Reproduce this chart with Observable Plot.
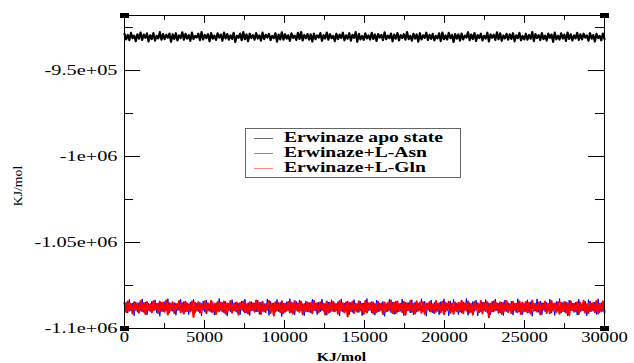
<!DOCTYPE html>
<html><head><meta charset="utf-8">
<script src="https://cdn.jsdelivr.net/npm/d3@7"></script>
<script src="https://cdn.jsdelivr.net/npm/@observablehq/plot@0.6"></script>
<style>
html,body{margin:0;padding:0;background:#fff;}
#wrap{position:relative;width:634px;height:363px;font-family:"Liberation Serif","DejaVu Serif",serif;}
#wrap svg, #wrap svg text{font-family:"Liberation Serif","DejaVu Serif",serif !important;}
#legend{position:absolute;left:245px;top:128px;width:216px;height:50px;border:1px solid #666;background:#fff;box-sizing:border-box;}
.row{position:absolute;left:0;width:100%;height:16px;}
.swatch{position:absolute;left:8px;top:8px;width:19px;height:1px;}
.lab{position:absolute;left:38px;top:0;font-size:14px;line-height:16px;font-weight:bold;white-space:nowrap;transform:scaleX(1.4);transform-origin:left center;color:#000;font-family:"Liberation Serif","DejaVu Serif",serif;}
</style></head>
<body>
<div id="wrap"></div>
<script>
// ---------- data (energies in thousands of kJ/mol) ----------
const xMax = 30000;
const seriesNames = ["Erwinaze apo state", "Erwinaze+L-Asn", "Erwinaze+L-Gln"];
const seriesColors = ["#000000", "#0000ff", "#ff0000"];
const legendSwatchColors = ["#666666", "#7777ff", "#ff8888"];

const apoK = [
-928.6,-931.9,-929.3,-932.4,-928.1,-931.2,-929.7,-932.9,-928.9,-931.5,
-927.9,-932.2,-929.1,-931.0,-928.4,-933.1,-929.5,-931.7,-928.2,-932.6,
-929.8,-931.3,-927.7,-932.0,-928.8,-931.8,-929.2,-930.9,-928.5,-933.3,
-929.0,-931.6,-928.3,-932.5,-929.6,-931.1,-927.8,-932.1,-928.7,-931.4,
-929.4,-932.8,-928.0,-931.7,-929.9,-930.8,-928.6,-932.3,-927.6,-931.9,
-929.3,-931.2,-928.9,-933.0,-928.2,-931.5,-929.7,-932.2,-928.4,-930.9,
-929.1,-932.7,-927.9,-931.3,-928.8,-932.0,-929.5,-931.6,-928.1,-933.4,
-929.8,-931.0,-928.5,-932.4,-927.7,-931.8,-929.0,-932.9,-928.6,-931.1,
-929.4,-932.1,-928.2,-931.4,-929.6,-932.6,-928.0,-931.7,-929.2,-930.8,
-928.7,-932.3,-929.9,-931.2,-928.3,-933.2,-929.1,-931.9,-927.8,-932.0,
-928.9,-931.5,-929.5,-932.8,-928.4,-931.0,-929.7,-932.2,-928.1,-931.6,
-927.6,-932.5,-929.3,-931.3,-928.8,-932.0,-929.0,-933.1,-928.5,-931.8,
-929.6,-930.9,-928.2,-932.7,-929.4,-931.4,-927.9,-932.1,-928.9,-931.2,
-929.8,-932.9,-928.6,-931.7,-929.1,-931.1,-928.0,-932.4,-929.5,-931.5,
-928.3,-932.6,-929.2,-931.0,-927.7,-933.3,-928.7,-931.9,-929.9,-932.2,
-928.4,-931.3,-929.6,-932.0,-928.1,-931.6,-929.0,-932.8,-928.8,-930.8,
-929.3,-932.3,-927.8,-931.8,-929.7,-931.2,-928.5,-933.0,-929.1,-931.5,
-928.2,-932.5,-929.4,-931.1,-928.9,-932.1,-927.6,-931.7,-929.8,-932.7,
-928.6,-931.4,-929.0,-933.2,-928.3,-931.9,-929.5,-931.0,-928.0,-932.2,
-929.2,-931.6,-928.7,-932.4,-929.9,-931.3,-928.4,-932.9,-927.9,-931.8,
-929.6,-932.0,-928.1,-931.2,-929.3,-933.4,-928.8,-931.5,-929.0,-932.6,
-928.5,-931.9,-929.7,-930.9,-927.7,-932.3,-929.1,-931.7,-928.2,-932.8,
-929.4,-931.1,-928.6,-932.5,-929.8,-931.4,-928.0,-933.1,-928.9,-931.0,
-929.2,-932.2,-927.8,-931.8,-928.4,-932.7,-929.6,-931.3,-928.7,-932.0,
-929.0,-931.6,-928.3,-933.0,-929.5,-931.2,-928.1,-932.4,-929.9,-931.9,
-928.6,-932.1,-929.3,-931.5,-927.6,-932.9,-928.8,-931.1,-929.4,-932.3,
-928.2,-931.7,-929.7,-932.6,-928.5,-931.0,-929.1,-933.3,-928.0,-931.8,
-929.8,-932.0,-928.4,-931.4,-929.2,-932.8,-927.9,-931.6,-928.9,-932.5,
-929.5,-931.3,-928.1,-932.2,-929.0,-931.9,-928.6,-930.9,-929.6,-932.7,
-928.3,-931.5,-929.4,-933.1,-928.7,-931.2,-929.9,-932.4,-928.5,-931.7];

const asnK = [
-1090.2,-1084.8,-1091.0,-1083.1,-1089.7,-1085.2,-1092.6,-1084.5,-1090.5,-1085.0,
-1089.9,-1082.8,-1090.7,-1084.6,-1092.1,-1085.4,-1090.1,-1084.2,-1089.6,-1083.3,
-1090.8,-1085.1,-1092.9,-1084.7,-1090.3,-1084.4,-1089.8,-1082.7,-1091.0,-1085.3,
-1090.0,-1084.9,-1092.3,-1085.5,-1089.5,-1083.0,-1090.6,-1084.3,-1090.4,-1085.0,
-1091.9,-1084.6,-1089.7,-1082.9,-1090.9,-1085.2,-1090.2,-1084.8,-1092.7,-1084.1,
-1090.5,-1083.4,-1089.9,-1085.6,-1090.7,-1084.5,-1092.2,-1085.1,-1090.0,-1082.6,
-1089.6,-1084.9,-1091.0,-1084.3,-1092.8,-1085.3,-1090.3,-1083.2,-1089.8,-1084.7,
-1090.6,-1085.4,-1092.0,-1084.0,-1090.1,-1082.9,-1090.8,-1085.0,-1092.5,-1084.4,
-1089.7,-1085.2,-1090.4,-1083.5,-1091.8,-1084.6,-1090.0,-1085.5,-1090.9,-1082.8,
-1092.4,-1084.2,-1089.9,-1085.1,-1090.5,-1083.1,-1090.2,-1084.8,-1093.0,-1085.3,
-1090.7,-1084.5,-1089.5,-1082.7,-1090.6,-1085.0,-1092.1,-1084.3,-1090.1,-1083.4,
-1089.8,-1085.6,-1092.6,-1084.1,-1090.4,-1084.9,-1090.9,-1083.0,-1089.6,-1085.2,
-1091.9,-1084.7,-1090.3,-1082.9,-1090.0,-1085.4,-1092.3,-1084.6,-1090.8,-1083.3,
-1090.2,-1085.0,-1089.7,-1084.4,-1092.7,-1082.8,-1090.5,-1085.3,-1090.1,-1084.0,
-1092.0,-1084.8,-1090.6,-1083.2,-1089.9,-1085.5,-1090.7,-1084.2,-1092.5,-1085.1,
-1090.3,-1082.6,-1089.8,-1084.9,-1091.0,-1084.5,-1092.2,-1083.5,-1090.4,-1085.2,
-1089.5,-1084.3,-1092.9,-1085.6,-1090.2,-1083.0,-1090.8,-1084.7,-1091.8,-1084.1,
-1090.6,-1085.3,-1090.0,-1082.9,-1092.4,-1084.8,-1089.7,-1085.0,-1090.9,-1083.3,
-1092.1,-1084.6,-1090.5,-1085.4,-1089.6,-1082.7,-1090.3,-1084.2,-1092.8,-1085.1,
-1090.1,-1083.4,-1091.0,-1084.9,-1090.7,-1085.5,-1092.0,-1084.4,-1089.8,-1082.8,
-1090.4,-1085.2,-1092.6,-1084.0,-1090.2,-1083.1,-1089.9,-1085.3,-1091.9,-1084.7,
-1090.8,-1084.5,-1089.5,-1082.6,-1092.3,-1085.0,-1090.6,-1084.3,-1090.0,-1083.5,
-1092.7,-1085.6,-1090.3,-1084.8,-1089.7,-1083.2,-1090.9,-1085.1,-1092.1,-1084.2,
-1090.5,-1082.9,-1089.8,-1085.4,-1091.0,-1084.6,-1092.5,-1083.4,-1090.1,-1085.0,
-1089.6,-1084.1,-1092.2,-1085.2,-1090.7,-1082.7,-1090.4,-1084.9,-1091.8,-1085.5,
-1090.2,-1083.3,-1090.8,-1084.5,-1092.9,-1085.3,-1089.9,-1082.8,-1090.6,-1084.0,
-1092.0,-1085.1,-1090.3,-1084.7,-1089.5,-1083.0,-1090.9,-1085.4,-1092.4,-1084.3,
-1090.0,-1082.6,-1091.0,-1085.0,-1090.5,-1084.4,-1092.7,-1083.5,-1089.8,-1085.2,
-1090.7,-1084.8,-1092.1,-1082.9,-1090.2,-1085.6,-1089.7,-1084.1,-1092.6,-1083.2,
-1090.4,-1085.3,-1089.9,-1084.6,-1091.9,-1082.7,-1090.8,-1085.0,-1090.1,-1084.5];

const glnK = [
-1085.1,-1090.4,-1084.3,-1089.6,-1085.8,-1091.2,-1084.7,-1089.1,-1085.5,-1090.8,
-1084.0,-1089.9,-1085.3,-1091.5,-1084.6,-1089.3,-1085.9,-1090.6,-1084.2,-1089.0,
-1085.6,-1091.0,-1084.4,-1089.7,-1085.0,-1090.2,-1083.8,-1091.8,-1085.2,-1089.4,
-1084.8,-1090.9,-1085.7,-1089.2,-1084.1,-1090.5,-1085.4,-1091.3,-1084.5,-1089.8,
-1085.9,-1090.1,-1084.3,-1093.2,-1085.1,-1089.5,-1084.7,-1090.7,-1085.6,-1089.1,
-1084.2,-1091.1,-1085.3,-1089.6,-1083.9,-1090.3,-1085.8,-1091.6,-1084.6,-1089.9,
-1085.0,-1090.0,-1084.4,-1091.4,-1085.5,-1089.3,-1084.0,-1090.8,-1085.7,-1089.7,
-1084.9,-1091.9,-1085.2,-1089.0,-1084.3,-1090.6,-1086.0,-1091.2,-1084.7,-1089.4,
-1085.4,-1090.2,-1083.8,-1089.8,-1085.1,-1091.5,-1084.5,-1090.0,-1085.9,-1089.2,
-1084.1,-1090.9,-1085.6,-1092.4,-1084.8,-1089.5,-1085.3,-1090.4,-1084.2,-1091.0,
-1085.7,-1089.6,-1084.6,-1090.7,-1085.0,-1091.3,-1084.0,-1089.1,-1085.5,-1090.3,
-1084.4,-1091.7,-1085.8,-1089.9,-1084.9,-1090.1,-1085.2,-1091.1,-1083.9,-1089.4,
-1085.3,-1090.5,-1084.7,-1089.2,-1085.6,-1091.8,-1084.3,-1090.8,-1085.0,-1089.7,
-1084.6,-1090.0,-1085.9,-1091.4,-1084.1,-1089.5,-1085.4,-1090.6,-1084.8,-1093.0,
-1085.1,-1089.8,-1084.5,-1091.0,-1085.7,-1090.2,-1084.2,-1089.3,-1085.6,-1091.5,
-1084.0,-1090.7,-1085.3,-1089.1,-1084.7,-1091.2,-1085.8,-1090.4,-1084.4,-1089.6,
-1085.5,-1091.6,-1084.9,-1090.0,-1085.2,-1089.4,-1083.8,-1090.9,-1085.0,-1091.1,
-1084.3,-1089.8,-1085.7,-1090.5,-1084.6,-1092.0,-1085.4,-1089.2,-1084.1,-1090.3,
-1085.8,-1091.3,-1084.2,-1089.7,-1085.1,-1090.8,-1084.8,-1091.5,-1085.5,-1089.0,
-1084.7,-1090.1,-1085.9,-1091.0,-1084.0,-1089.6,-1085.3,-1090.6,-1084.5,-1091.7,
-1085.0,-1089.3,-1084.4,-1090.9,-1085.6,-1091.4,-1084.9,-1089.9,-1085.2,-1090.2,
-1083.9,-1091.1,-1085.5,-1089.5,-1084.3,-1090.7,-1085.8,-1091.9,-1084.6,-1089.1,
-1085.4,-1090.4,-1084.1,-1091.2,-1085.0,-1089.8,-1084.7,-1093.4,-1085.7,-1090.0,
-1084.2,-1089.4,-1085.3,-1090.8,-1084.8,-1091.5,-1085.1,-1089.7,-1084.0,-1090.5,
-1085.9,-1091.0,-1084.5,-1089.2,-1085.6,-1090.3,-1084.3,-1091.6,-1085.0,-1089.9,
-1084.6,-1090.6,-1085.2,-1091.3,-1083.8,-1089.6,-1085.7,-1090.1,-1084.9,-1091.8,
-1085.3,-1089.0,-1084.4,-1090.9,-1085.8,-1091.1,-1084.1,-1089.5,-1085.5,-1090.4,
-1084.8,-1091.4,-1085.0,-1089.8,-1084.6,-1090.7,-1085.4,-1092.2,-1084.2,-1089.3,
-1085.6,-1090.0,-1084.7,-1091.5,-1085.1,-1089.4,-1083.9,-1090.8,-1085.9,-1091.0,
-1084.5,-1089.7,-1085.2,-1090.5,-1084.0,-1091.2,-1085.7,-1089.9,-1084.3,-1090.6];

const xTicks = [0, 5000, 10000, 15000, 20000, 25000, 30000];
const xMinorTicks = [2500, 7500, 12500, 17500, 22500, 27500];
const yTicks = [-950000, -1000000, -1050000, -1100000];
const yTickLabels = ["-9.5e+05", "-1e+06", "-1.05e+06", "-1.1e+06"];
const yMinorTicks = [-925000, -975000, -1025000, -1075000];
const yDomain = [-1100000, -918000];
const xLabel = "KJ/mol";
const yLabel = "KJ/mol";

// ---------- build table ----------
function toRows(arr, name) {
  return arr.map((v, i) => ({t: i * xMax / (arr.length - 1), e: v * 1000, s: name}));
}
const apo = toRows(apoK, seriesNames[0]);
const asn = toRows(asnK, seriesNames[1]);
const gln = toRows(glnK, seriesNames[2]);

const W = 634, H = 363;
const mL = 124, mR = 30, mT = 15, mB = 35;
const pw = W - mL - mR, ph = H - mT - mB;
const FONT = "'Liberation Serif','DejaVu Serif',serif";

const cornerSymbol = {draw(ctx) { ctx.rect(-4.5, -2.5, 9, 5); }};
const corners = [
  {x: 0, y: yDomain[1]}, {x: xMax, y: yDomain[1]},
  {x: 0, y: yDomain[0]}, {x: xMax, y: yDomain[0]}
];

const chart = Plot.plot({
  width: W, height: H,
  marginLeft: mL, marginRight: mR, marginTop: mT, marginBottom: mB,
  style: {fontFamily: FONT, background: "#fff", color: "#000"},
  x: {domain: [0, xMax]},
  y: {domain: yDomain},
  marks: [
    Plot.line(asn, {x: "t", y: "e", stroke: seriesColors[1], strokeWidth: 1.0}),
    Plot.line(gln, {x: "t", y: "e", stroke: seriesColors[2], strokeWidth: 2.1}),
    Plot.line(apo, {x: "t", y: "e", stroke: seriesColors[0], strokeWidth: 2.2}),
    Plot.frame({stroke: "#000", strokeWidth: 1}),
    // inward ticks, bottom / top
    Plot.ruleX(xTicks, {x: d => d, insetTop: ph - 8, stroke: "#000"}),
    Plot.ruleX(xMinorTicks, {x: d => d, insetTop: ph - 5, stroke: "#000"}),
    Plot.ruleX(xTicks, {x: d => d, insetBottom: ph - 8, stroke: "#000"}),
    Plot.ruleX(xMinorTicks, {x: d => d, insetBottom: ph - 5, stroke: "#000"}),
    // inward ticks, left / right
    Plot.ruleY(yTicks, {y: d => d, insetRight: pw - 16, stroke: "#000"}),
    Plot.ruleY(yMinorTicks, {y: d => d, insetRight: pw - 9, stroke: "#000"}),
    Plot.ruleY(yTicks, {y: d => d, insetLeft: pw - 16, stroke: "#000"}),
    Plot.ruleY(yMinorTicks, {y: d => d, insetLeft: pw - 9, stroke: "#000"}),
    Plot.dot(corners, {x: "x", y: "y", symbol: cornerSymbol, fill: "#000", stroke: "none", r: 3}),
    Plot.axisX({ticks: xTicks, tickSize: 0, tickPadding: 4, tickFormat: d => String(d), fontSize: 14, fontFamily: FONT, label: null}),
    Plot.axisY({ticks: yTicks, tickSize: 0, tickPadding: 7, tickFormat: d => yTickLabels[yTicks.indexOf(d)], fontSize: 14, fontFamily: FONT, label: null}),
    Plot.text([xLabel], {frameAnchor: "bottom", dx: -23, dy: 32, fontSize: 13, fontWeight: "bold", fontFamily: FONT}),
    Plot.text([yLabel], {frameAnchor: "left", textAnchor: "middle", dx: -106, dy: 14, rotate: -90, fontSize: 12, fontFamily: FONT})
  ]
});

const wrap = document.getElementById("wrap");
wrap.appendChild(chart);

// horizontal stretch of texts (the reference is drawn wide)
function stretchEl(t, k) {
  const len = t.getComputedTextLength();
  t.setAttribute("textLength", (len * k).toFixed(1));
  t.setAttribute("lengthAdjust", "spacingAndGlyphs");
}
chart.querySelectorAll('g[aria-label="x-axis tick label"] text').forEach(t => stretchEl(t, 1.33));
chart.querySelectorAll('g[aria-label="y-axis tick label"] text').forEach(t => stretchEl(t, 1.45));
const textGroups = chart.querySelectorAll('g[aria-label="text"]');
if (textGroups.length > 0) textGroups[0].querySelectorAll("text").forEach(t => stretchEl(t, 1.2));
if (textGroups.length > 1) textGroups[1].querySelectorAll("text").forEach(t => stretchEl(t, 1.15));

// legend
const legend = document.createElement("div");
legend.id = "legend";
seriesNames.forEach((name, i) => {
  const row = document.createElement("div");
  row.className = "row";
  row.style.top = (1 + i * 15) + "px";
  const sw = document.createElement("div");
  sw.className = "swatch";
  sw.style.background = legendSwatchColors[i];
  const lab = document.createElement("span");
  lab.className = "lab";
  lab.textContent = name;
  row.appendChild(sw); row.appendChild(lab);
  legend.appendChild(row);
});
wrap.appendChild(legend);
</script>
</body></html>
